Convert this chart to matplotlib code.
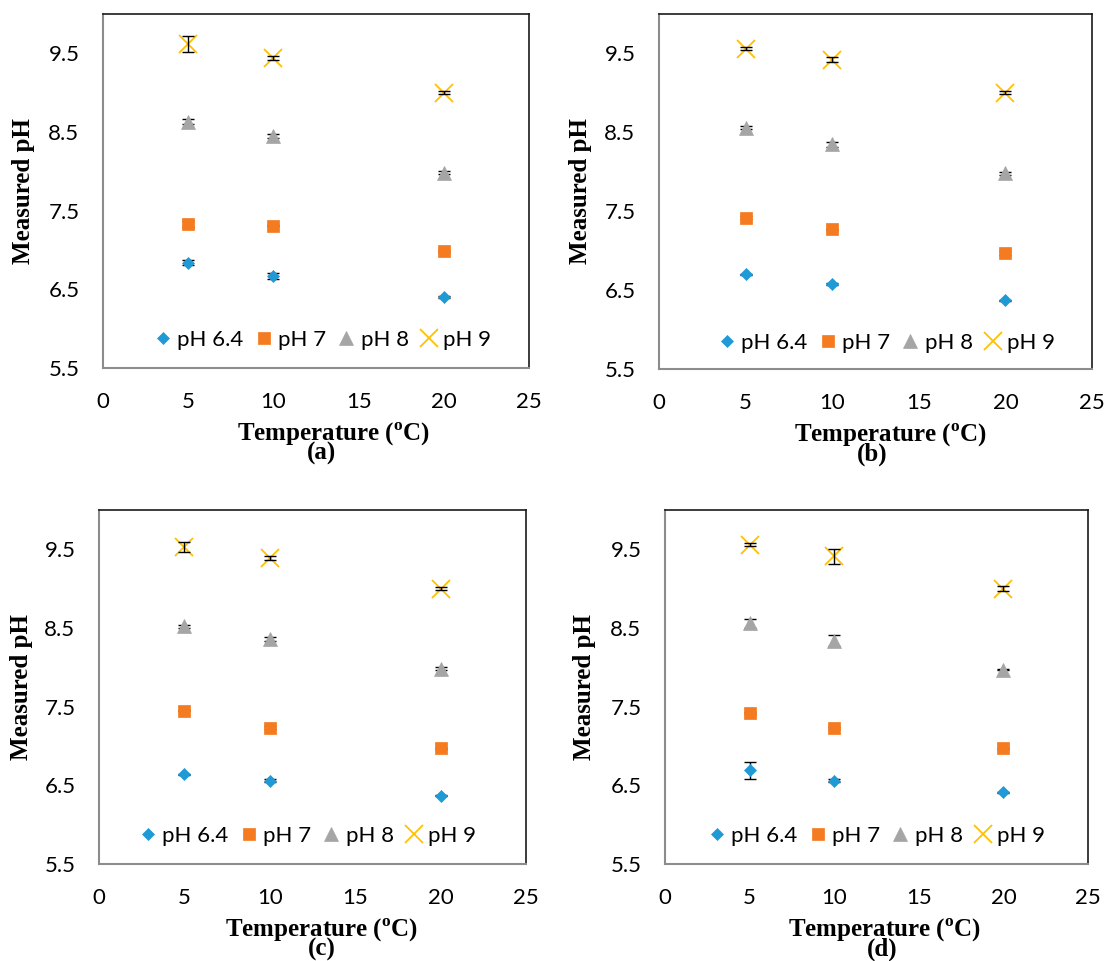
import matplotlib
matplotlib.use("Agg")
import matplotlib.pyplot as plt

# ---------------- data ----------------
temps = [5, 10, 20]
series_labels = ["pH 6.4", "pH 7", "pH 8", "pH 9"]
panel_letters = ["(a)", "(b)", "(c)", "(d)"]
xticks = [0, 5, 10, 15, 20, 25]
yticks = [5.5, 6.5, 7.5, 8.5, 9.5]

a_ph64 = [6.84, 6.67, 6.40]; a_ph64_err = [0.03, 0.04, 0.01]
a_ph7 = [7.33, 7.31, 6.99];  a_ph7_err = [0.04, 0.01, 0.01]
a_ph8 = [8.63, 8.45, 7.98];  a_ph8_err = [0.03, 0.03, 0.02]
a_ph9 = [9.62, 9.44, 9.00];  a_ph9_err = [0.10, 0.03, 0.02]

b_ph64 = [6.70, 6.58, 6.37]; b_ph64_err = [0.01, 0.01, 0.01]
b_ph7 = [7.42, 7.27, 6.97];  b_ph7_err = [0.02, 0.01, 0.02]
b_ph8 = [8.56, 8.35, 7.98];  b_ph8_err = [0.02, 0.03, 0.02]
b_ph9 = [9.56, 9.42, 9.00];  b_ph9_err = [0.02, 0.03, 0.02]

c_ph64 = [6.64, 6.56, 6.37]; c_ph64_err = [0.01, 0.02, 0.01]
c_ph7 = [7.45, 7.23, 6.97];  c_ph7_err = [0.01, 0.02, 0.01]
c_ph8 = [8.52, 8.36, 7.98];  c_ph8_err = [0.02, 0.03, 0.02]
c_ph9 = [9.53, 9.39, 9.00];  c_ph9_err = [0.06, 0.02, 0.02]

d_ph64 = [6.69, 6.56, 6.41]; d_ph64_err = [0.11, 0.02, 0.01]
d_ph7 = [7.42, 7.23, 6.97];  d_ph7_err = [0.01, 0.01, 0.01]
d_ph8 = [8.56, 8.34, 7.97];  d_ph8_err = [0.06, 0.07, 0.01]
d_ph9 = [9.56, 9.41, 9.00];  d_ph9_err = [0.02, 0.10, 0.03]

panels = [
    [(a_ph64, a_ph64_err), (a_ph7, a_ph7_err), (a_ph8, a_ph8_err), (a_ph9, a_ph9_err)],
    [(b_ph64, b_ph64_err), (b_ph7, b_ph7_err), (b_ph8, b_ph8_err), (b_ph9, b_ph9_err)],
    [(c_ph64, c_ph64_err), (c_ph7, c_ph7_err), (c_ph8, c_ph8_err), (c_ph9, c_ph9_err)],
    [(d_ph64, d_ph64_err), (d_ph7, d_ph7_err), (d_ph8, d_ph8_err), (d_ph9, d_ph9_err)],
]

# ---------------- style ----------------
colors = ["#1F9AD6", "#F47B20", "#A5A5A5", "#FFC000"]
markers = ["D", "s", "^", "x"]
msizes = [6.5, 8.5, 9.5, 13.0]

plt.rcParams["mathtext.fontset"] = "custom"
plt.rcParams["mathtext.bf"] = "Liberation Serif:bold"
plt.rcParams["mathtext.rm"] = "Liberation Serif:bold"

W, H = 1107, 961
fig = plt.figure(figsize=(W / 100, H / 100), dpi=100)

# axes boxes in pixels: left, top, right, bottom
boxes = [(103, 14, 529, 368), (659, 14, 1092, 369), (99, 510, 526, 864), (665, 510, 1088, 864)]
ylabel_x = [24, 580, 22, 585]
xlabel_cx = [334, 891, 322, 885]
letter_cx = [322, 872, 322, 882]
leg_cx = [322, 886, 307, 876]
leg_cy = [340, 343, 836, 836]

tick_font = "Lato"
for i, (l, t, r, b) in enumerate(boxes):
    ax = fig.add_axes([l / W, 1 - b / H, (r - l) / W, (b - t) / H])
    for j, (vals, errs) in enumerate(panels[i]):
        ax.errorbar(temps, vals, yerr=errs, fmt="none", ecolor="black",
                    elinewidth=1.0, capsize=4, capthick=1.0, zorder=2)
        ax.plot(temps, vals, ls="none", marker=markers[j], color=colors[j],
                markersize=msizes[j], markeredgewidth=(1.3 if markers[j] == "x" else 0.5),
                label=series_labels[j], zorder=3 if markers[j] != "x" else 1.5)
    ax.set_xlim(0, 25)
    ax.set_ylim(5.5, 10)
    ax.set_xticks(xticks)
    ax.set_yticks(yticks)
    ax.set_xticklabels([str(v) for v in xticks], fontfamily=tick_font, fontsize=16)
    ax.set_yticklabels([f"{v:.1f}" for v in yticks], fontfamily=tick_font, fontsize=16)
    ax.tick_params(axis="x", length=0, pad=17)
    ax.tick_params(axis="y", length=0, pad=17)
    for s in ["left", "bottom"]:
        ax.spines[s].set_color("#8C8C8C")
        ax.spines[s].set_linewidth(1.5)
    for s in ["top", "right"]:
        ax.spines[s].set_color("#1A1A1A")
        ax.spines[s].set_linewidth(1.2)

    leg_y = (b - leg_cy[i]) / (b - t)
    ax.legend(loc="center", bbox_to_anchor=((leg_cx[i] - l) / (r - l), leg_y),
              ncol=4, frameon=False, prop={"family": tick_font, "size": 16},
              handletextpad=0.2, columnspacing=0.45, handlelength=0.9,
              borderpad=0, borderaxespad=0)

    cy = (t + b) / 2
    fig.text(ylabel_x[i] / W, 1 - cy / H, "Measured pH", rotation=90,
             ha="center", va="center", family="Liberation Serif",
             fontweight="bold", fontsize=18)
    fig.text(xlabel_cx[i] / W, 1 - (b + 66) / H, r"Temperature ($^{\mathbf{o}}$C)",
             ha="center", va="center", family="Liberation Serif",
             fontweight="bold", fontsize=18)
    fig.text(letter_cx[i] / W, 1 - (b + 85) / H, panel_letters[i],
             ha="center", va="center", family="Liberation Serif",
             fontweight="bold", fontsize=18)

fig.savefig("out.png", dpi=100, facecolor="white")
